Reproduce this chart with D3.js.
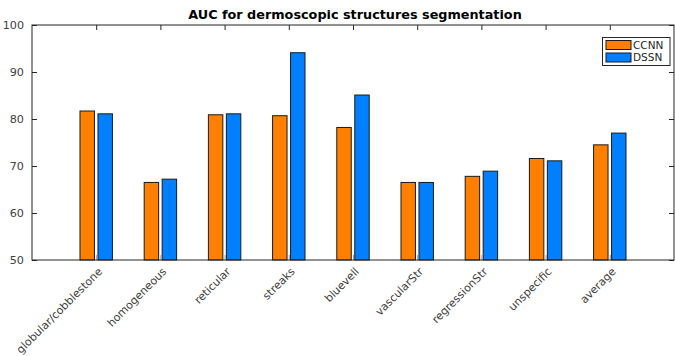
<!DOCTYPE html>
<html>
<head>
<meta charset="utf-8">
<script src="https://cdn.jsdelivr.net/npm/d3@7"></script>
<style>
  html, body { margin: 0; padding: 0; background: #fff; }
  svg { display: block; font-family: "DejaVu Sans", sans-serif; }
</style>
</head>
<body>
<svg id="chart" width="675" height="356"></svg>
<script>
// Segmentation AUC per dermoscopic structure, two methods
const categories = ["globular/cobblestone", "homogeneous", "reticular", "streaks", "bluevell",
                    "vascularStr", "regressionStr", "unspecific", "average"];
const seriesNames = ["CCNN", "DSSN"];
const ccnnValues = [81.7, 66.5, 80.9, 80.7, 78.2, 66.5, 67.8, 71.6, 74.5];
const dssnValues = [81.1, 67.2, 81.1, 94.1, 85.1, 66.5, 68.9, 71.1, 77.0];
const yTicks = [50, 60, 70, 80, 90, 100];
const seriesColors = ["#ff8000", "#0080ff"];

const svg = d3.select("#chart");
const plotLeft = 32, plotRight = 674, plotTop = 25, plotBottom = 260;

// positions 1..9 on a [0, 10] range
const x = d3.scaleLinear().domain([0, 10]).range([plotLeft, plotRight]);
const y = d3.scaleLinear().domain([50, 100]).range([plotBottom, plotTop]);

const seriesValues = [ccnnValues, dssnValues];
const offset = 0.14;     // group offset in position units
const barW = 0.225;      // bar width in position units

// bars
seriesValues.forEach((vals, s) => {
  const g = svg.append("g");
  g.selectAll("rect")
    .data(vals)
    .join("rect")
    .attr("x", (d, i) => x(i + 1 + (s === 0 ? -offset : offset) - barW / 2))
    .attr("width", x(barW) - x(0))
    .attr("y", d => y(d))
    .attr("height", d => y(50) - y(d))
    .attr("fill", seriesColors[s])
    .attr("stroke", "#1a1a1a")
    .attr("stroke-width", 1);
});

// axes box
const axisColor = "#262626";
const tickColor = "#262626";

const xBottom = d3.axisBottom(x).tickValues(d3.range(1, 10)).tickSize(-5).tickFormat("");
svg.append("g").attr("transform", `translate(0,${plotBottom})`).call(xBottom)
  .call(g => g.select(".domain").remove())
  .call(g => g.selectAll("line").attr("stroke", "#999"));

const xTop = d3.axisTop(x).tickValues(d3.range(1, 10)).tickSize(-5).tickFormat("");
svg.append("g").attr("transform", `translate(0,${plotTop})`).call(xTop)
  .call(g => g.select(".domain").remove())
  .call(g => g.selectAll("line").attr("stroke", tickColor));

const yLeft = d3.axisLeft(y).tickValues(yTicks).tickSize(-5).tickPadding(8);
svg.append("g").attr("transform", `translate(${plotLeft},0)`).call(yLeft)
  .call(g => g.select(".domain").remove())
  .call(g => g.selectAll("line").attr("stroke", tickColor))
  .call(g => g.selectAll("text").attr("fill", "#404040").style("font-size", "11.2px")
    .style("font-family", "DejaVu Sans, sans-serif"));

const yRight = d3.axisRight(y).tickValues(yTicks).tickSize(-5).tickFormat("");
svg.append("g").attr("transform", `translate(${plotRight},0)`).call(yRight)
  .call(g => g.select(".domain").remove())
  .call(g => g.selectAll("line").attr("stroke", tickColor));

svg.append("rect")
  .attr("x", plotLeft).attr("y", plotTop)
  .attr("width", plotRight - plotLeft).attr("height", plotBottom - plotTop)
  .attr("fill", "none").attr("stroke", axisColor).attr("stroke-width", 1);

// rotated category labels
svg.append("g").selectAll("text")
  .data(categories)
  .join("text")
  .attr("transform", (d, i) => `translate(${x(i + 1) + 4},${plotBottom + 9.5}) rotate(-45)`)
  .attr("text-anchor", "end")
  .attr("dy", "0.35em")
  .attr("fill", "#404040")
  .style("font-size", "11px")
  .text(d => d);

// title
svg.append("text")
  .attr("x", (plotLeft + plotRight) / 2 + 2)
  .attr("y", 19)
  .attr("text-anchor", "middle")
  .style("font-size", "12.8px")
  .style("font-weight", "bold")
  .attr("fill", "#000")
  .text("AUC for dermoscopic structures segmentation");

// legend
const legend = svg.append("g");
legend.append("rect")
  .attr("x", 602.5).attr("y", 37.5).attr("width", 67.5).attr("height", 28)
  .attr("fill", "#fff").attr("stroke", "#262626");
seriesNames.forEach((name, s) => {
  legend.append("rect")
    .attr("x", 606).attr("y", 40.5 + s * 12.5).attr("width", 25).attr("height", 9)
    .attr("fill", seriesColors[s]).attr("stroke", "#1a1a1a");
  legend.append("text")
    .attr("x", 633).attr("y", 45 + s * 12.5)
    .attr("dy", "0.35em")
    .style("font-size", "10.5px")
    .attr("fill", "#262626")
    .text(name);
});
</script>
</body>
</html>
